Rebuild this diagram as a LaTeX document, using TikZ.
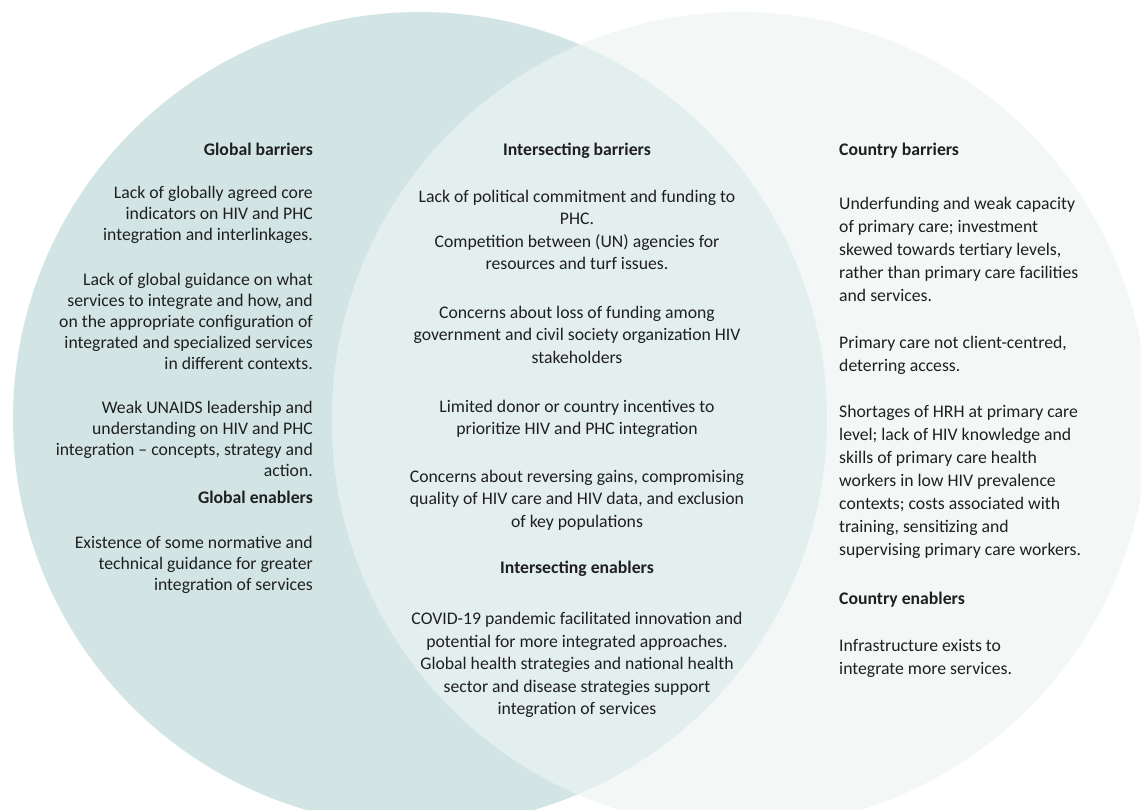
\documentclass[tikz,border=0pt]{standalone}
\usepackage{fontspec}
\setmainfont{Carlito}
\begin{document}
\begin{tikzpicture}[x=1pt,y=-1pt,
  txt/.style={inner sep=0pt, font=\fontsize{17.7}{22}\selectfont, text=black!88},
  hd/.style={txt, font=\fontsize{17.7}{22}\selectfont\bfseries},
  lcol/.style={txt, anchor=base east},
  mcol/.style={txt, anchor=base},
  rcol/.style={txt, anchor=base west}]
\definecolor{leftc}{HTML}{D2E5E4}
\definecolor{rightc}{HTML}{F3F8F7}
\definecolor{midc}{HTML}{E2EFEE}
\useasboundingbox (0,0) rectangle (1141,809);
\clip (0,0) rectangle (1141,809);
\fill[white] (0,0) rectangle (1141,809);
\fill[leftc] (420,419) circle[radius=407];
\fill[rightc] (740,420) circle[radius=408];
\begin{scope}
  \clip (420,419) circle[radius=407];
  \fill[midc] (740,420) circle[radius=408];
\end{scope}
% left column
\node[hd, anchor=base east] (gb) at (313,155) {Global barriers};
\foreach \yy/\t [count=\i] in {
  198/{Lack of globally agreed core},
  219/{indicators on HIV and PHC},
  240/{integration and interlinkages.},
  285/{Lack of global guidance on what},
  306/{services to integrate and how, and},
  327/{on the appropriate configuration of},
  348/{integrated and specialized services},
  369/{in different contexts.},
  413/{Weak UNAIDS leadership and},
  434/{understanding on HIV and PHC},
  455/{integration – concepts, strategy and},
  476/{action.}}
  \node[lcol] (gl\i) at (313,\yy) {\t};
\node[hd, anchor=base east] (ge) at (313,503) {Global enablers};
\foreach \yy/\t [count=\i] in {
  548/{Existence of some normative and},
  569/{technical guidance for greater},
  590/{integration of services}}
  \node[lcol] (gel\i) at (313,\yy) {\t};
% middle column
\node[hd, anchor=base] (ib) at (577,155) {Intersecting barriers};
\foreach \yy/\t [count=\i] in {
  202/{Lack of political commitment and funding to},
  224/{PHC.},
  247/{Competition between (UN) agencies for},
  269/{resources and turf issues.},
  318/{Concerns about loss of funding among},
  340/{government and civil society organization HIV},
  363/{stakeholders},
  412/{Limited donor or country incentives to},
  434/{prioritize HIV and PHC integration},
  482/{Concerns about reversing gains, compromising},
  504/{quality of HIV care and HIV data, and exclusion},
  527/{of key populations}}
  \node[mcol] (il\i) at (577,\yy) {\t};
\node[hd, anchor=base] (ie) at (577,573) {Intersecting enablers};
\foreach \yy/\t [count=\i] in {
  624/{COVID-19 pandemic facilitated innovation and},
  647/{potential for more integrated approaches.},
  669/{Global health strategies and national health},
  692/{sector and disease strategies support},
  714/{integration of services}}
  \node[mcol] (iel\i) at (577,\yy) {\t};
% right column
\node[hd, anchor=base west] (cb) at (839,155) {Country barriers};
\foreach \yy/\t [count=\i] in {
  209/{Underfunding and weak capacity},
  232/{of primary care; investment},
  255/{skewed towards tertiary levels,},
  278/{rather than primary care facilities},
  301/{and services.},
  348/{Primary care not client-centred,},
  371/{deterring access.},
  417/{Shortages of HRH at primary care},
  440/{level; lack of HIV knowledge and},
  463/{skills of primary care health},
  486/{workers in low HIV prevalence},
  509/{contexts; costs associated with},
  532/{training, sensitizing and},
  555/{supervising primary care workers.}}
  \node[rcol] (cl\i) at (839,\yy) {\t};
\node[hd, anchor=base west] (ce) at (839,604) {Country enablers};
\foreach \yy/\t [count=\i] in {
  651/{Infrastructure exists to},
  674/{integrate more services.}}
  \node[rcol] (cel\i) at (839,\yy) {\t};
\end{tikzpicture}
\end{document}
